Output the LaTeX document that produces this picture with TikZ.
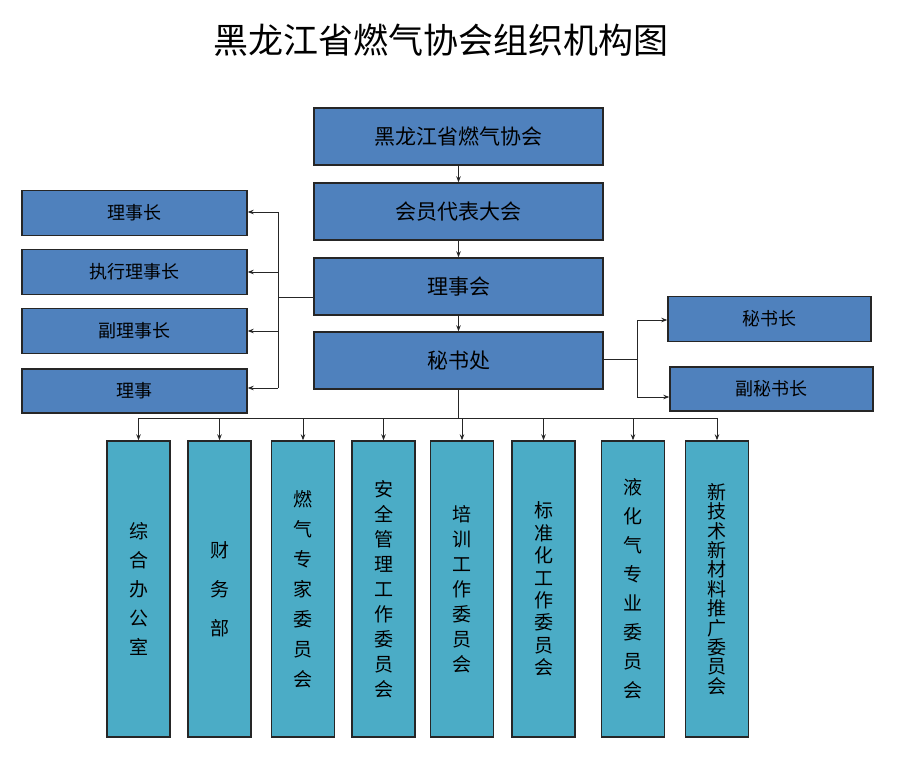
\documentclass[tikz,border=0pt]{standalone}
\usepackage{fontspec}
\newfontfamily\cjk{Noto Sans CJK SC}
\usetikzlibrary{arrows.meta}
\definecolor{boxblue}{HTML}{4F81BD}
\definecolor{boxcyan}{HTML}{4BACC6}
\tikzset{
  mainbox/.style={draw=black!85, line width=1.4pt, fill=boxblue, minimum width=289pt, minimum height=57pt, font=\cjk\fontsize{21}{24}\selectfont},
  sidebox/.style={draw=black!85, line width=1.4pt, fill=boxblue, minimum height=45pt, font=\cjk\fontsize{18}{20}\selectfont},
  deptbox/.style={draw=black!85, line width=1.4pt, fill=boxcyan, minimum width=63pt, minimum height=296pt, align=center, font=\cjk\fontsize{19}{#1}\selectfont},
  bus/.style={line width=0.9pt, black!85},
  link/.style={line width=0.9pt, black!85, -{Stealth[length=6pt,width=4.5pt]}}
}
\begin{document}
\begin{tikzpicture}[x=1pt,y=-1pt]
\useasboundingbox (0,0) rectangle (900,766);
\node[font=\cjk\fontsize{35}{40}\selectfont] (title) at (441,40) {黑龙江省燃气协会组织机构图};

\node[mainbox] (xh) at (458.5,136.5) {黑龙江省燃气协会};
\node[mainbox] (hy) at (458.5,211.5) {会员代表大会};
\node[mainbox] (lsh) at (458.5,286.5) {理事会};
\node[mainbox] (msc) at (458.5,360.5) {秘书处};
\draw[link] (xh) -- (hy);
\draw[link] (hy) -- (lsh);
\draw[link] (lsh) -- (msc);

\node[sidebox, minimum width=225pt] (lsz) at (134.5,213) {理事长};
\node[sidebox, minimum width=225pt] (zxlsz) at (134.5,272) {执行理事长};
\node[sidebox, minimum width=225pt] (flsz) at (134.5,331) {副理事长};
\node[sidebox, minimum width=225pt, minimum height=44pt] (ls) at (134.5,391) {理事};

\coordinate (L0) at (278,297);
\coordinate (L1) at (278,212);
\coordinate (L4) at (278,388);
\draw[bus] (lsh.west |- L0) -- (L0);
\draw[bus] (L1) -- (L4);
\draw[link] (L1) -- (lsz.east |- L1);
\draw[link] (L0 |- zxlsz) -- (zxlsz.east);
\draw[link] (L0 |- flsz) -- (flsz.east);
\draw[link] (L4) -- (ls.east |- L4);

\node[sidebox, minimum width=203pt] (msz) at (769.5,319) {秘书长};
\node[sidebox, minimum width=203pt, minimum height=44pt] (fmsz) at (771.5,389) {副秘书长};

\coordinate (R0) at (637,359);
\coordinate (R1) at (637,320);
\coordinate (R2) at (637,397);
\draw[bus] (msc.east |- R0) -- (R0);
\draw[bus] (R1) -- (R2);
\draw[link] (R1) -- (msz.west |- R1);
\draw[link] (R2) -- (fmsz.west |- R2);

\node[deptbox=29pt] (d1) at (138.5,589) {综\\合\\办\\公\\室};
\node[deptbox=39pt] (d2) at (219.5,589) {财\\务\\部};
\node[deptbox=30pt] (d3) at (303,589) {燃\\气\\专\\家\\委\\员\\会};
\node[deptbox=25pt] (d4) at (383.5,589) {安\\全\\管\\理\\工\\作\\委\\员\\会};
\node[deptbox=25pt] (d5) at (462,589) {培\\训\\工\\作\\委\\员\\会};
\node[deptbox=22.4pt] (d6) at (543.5,589) {标\\准\\化\\工\\作\\委\\员\\会};
\node[deptbox=29pt] (d7) at (633,589) {液\\化\\气\\专\\业\\委\\员\\会};
\node[deptbox=19.4pt] (d8) at (717,589) {新\\技\\术\\新\\材\\料\\推\\广\\委\\员\\会};

\coordinate (B0) at (458.5,418);
\draw[bus] (msc.south) -- (B0);
\draw[bus] (d1.north |- B0) -- (d8.north |- B0);
\foreach \i in {1,...,8}
  \draw[link] (d\i.north |- B0) -- (d\i.north);

\end{tikzpicture}
\end{document}
